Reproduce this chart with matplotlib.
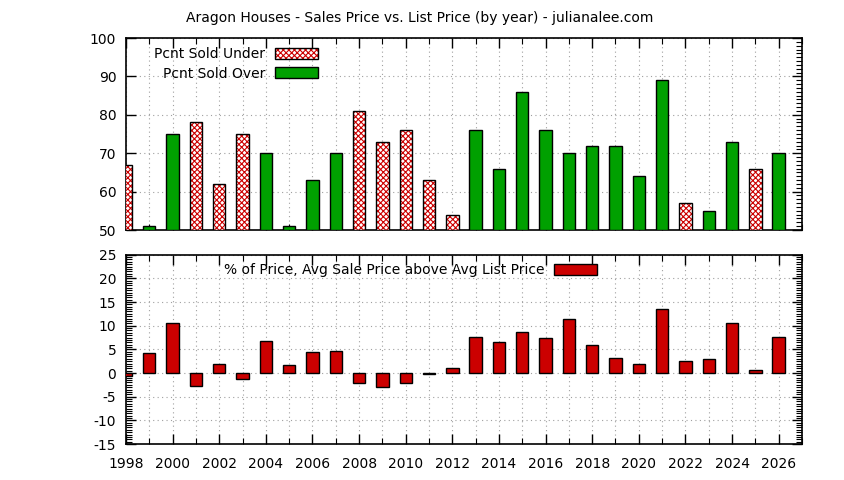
import numpy as np
import matplotlib
matplotlib.use("Agg")
import matplotlib.pyplot as plt
from matplotlib.patches import Patch
from matplotlib.ticker import MultipleLocator

years = list(range(1998, 2027))
# percent of houses sold (top panel); 'U' = sold under list, 'O' = sold over
pcnt_sold = [67, 51, 75, 78, 62, 75, 70, 51, 63, 70, 81, 73, 76, 63, 54,
             76, 66, 86, 76, 70, 72, 72, 64, 89, 57, 55, 73, 66, 70]
kind = ['U', 'O', 'O', 'U', 'U', 'U', 'O', 'O', 'O', 'O', 'U', 'U', 'U', 'U', 'U',
        'O', 'O', 'O', 'O', 'O', 'O', 'O', 'O', 'O', 'U', 'O', 'O', 'U', 'O']
# % avg sale price above avg list price (bottom panel)
pct_above = [-0.6, 4.2, 10.6, -2.7, 1.9, -1.3, 6.7, 1.7, 4.4, 4.6, -2.1, -2.9, -2.1, -0.2, 1.0,
             7.7, 6.5, 8.75, 7.5, 11.5, 6.0, 3.1, 1.9, 13.5, 2.5, 2.9, 10.6, 0.6, 7.7]

green = '#00a000'
red = '#cc0000'
fs = 10
plt.rcParams['hatch.linewidth'] = 0.8
plt.rcParams['axes.unicode_minus'] = False

yrs = np.array(years)
vals = np.array(pcnt_sold)
under = np.array(kind) == 'U'

fig = plt.figure(figsize=(8.44, 4.8), dpi=100)
ax1 = fig.add_axes([0.1493, 0.5208, 0.8009, 0.4000])
ax2 = fig.add_axes([0.1493, 0.0750, 0.8009, 0.3944])

w = 0.53
# under bars: red cross-hatch, black outline
ax1.bar(yrs[under], vals[under] - 50, w, bottom=50, color='white', edgecolor=red,
        hatch='xxxxxx', linewidth=0, zorder=3)
ax1.bar(yrs[under], vals[under] - 50, w, bottom=50, fill=False, edgecolor='black',
        linewidth=1, zorder=4)
ax1.bar(yrs[~under], vals[~under] - 50, w, bottom=50, color=green, edgecolor='black',
        linewidth=1, zorder=3)

ax2.bar(yrs, pct_above, w, color=red, edgecolor='black', linewidth=1, zorder=3)

for ax in (ax1, ax2):
    ax.set_xlim(1998, 2027)
    ax.xaxis.set_major_locator(MultipleLocator(2))
    ax.xaxis.set_minor_locator(MultipleLocator(1))
    ax.grid(True, which='both', axis='x', linestyle=(0, (1, 3)), color='#a0a0a0', linewidth=0.8)
    ax.grid(True, which='major', axis='y', linestyle=(0, (1, 3)), color='#a0a0a0', linewidth=0.8)
    ax.tick_params(which='major', direction='in', length=7, width=1, top=True, right=True,
                   labelsize=fs, colors='black')
    ax.tick_params(axis='y', which='major', pad=7)
    ax.tick_params(axis='x', which='major', pad=9)
    ax.tick_params(which='minor', direction='in', length=4, width=0.8, top=True, right=True)
    ax.set_axisbelow(True)
    for s in ax.spines.values():
        s.set_linewidth(1.2)

ax1.set_ylim(50, 100)
ax1.yaxis.set_major_locator(MultipleLocator(10))
ax1.yaxis.set_minor_locator(MultipleLocator(1))
ax1.tick_params(axis='y', which='minor', left=False)
ax1.tick_params(axis='x', labelbottom=False)

ax2.set_ylim(-15, 25)
ax2.yaxis.set_major_locator(MultipleLocator(5))
ax2.yaxis.set_minor_locator(MultipleLocator(0.5))

h_under = Patch(facecolor='white', edgecolor=red, hatch='xxxxxx', linewidth=0)
h_under_box = Patch(fill=False, edgecolor='black', linewidth=1)
h_over = Patch(facecolor=green, edgecolor='black', linewidth=1)
leg1 = ax1.legend([(h_under, h_under_box), h_over], ['Pcnt Sold Under', 'Pcnt Sold Over'],
                  loc='upper right', bbox_to_anchor=(0.284, 0.953), frameon=False, fontsize=fs,
                  markerfirst=False, handlelength=3.1, handleheight=0.8, handletextpad=0.7,
                  labelspacing=0.4, borderaxespad=0, borderpad=0)
for t in leg1.get_texts():
    t.set_ha('right')

h_red = Patch(facecolor=red, edgecolor='black', linewidth=1)
ax2.legend([h_red], ['% of Price, Avg Sale Price above Avg List Price'],
           loc='upper right', bbox_to_anchor=(0.697, 0.955), frameon=False, fontsize=fs,
           markerfirst=False, handlelength=3.1, handleheight=0.8, handletextpad=0.7,
           borderaxespad=0, borderpad=0)

fig.text(0.4976, 0.962, 'Aragon Houses - Sales Price vs. List Price (by year) - julianalee.com',
         ha='center', va='center', fontsize=fs)

fig.savefig('out.png', dpi=100)
